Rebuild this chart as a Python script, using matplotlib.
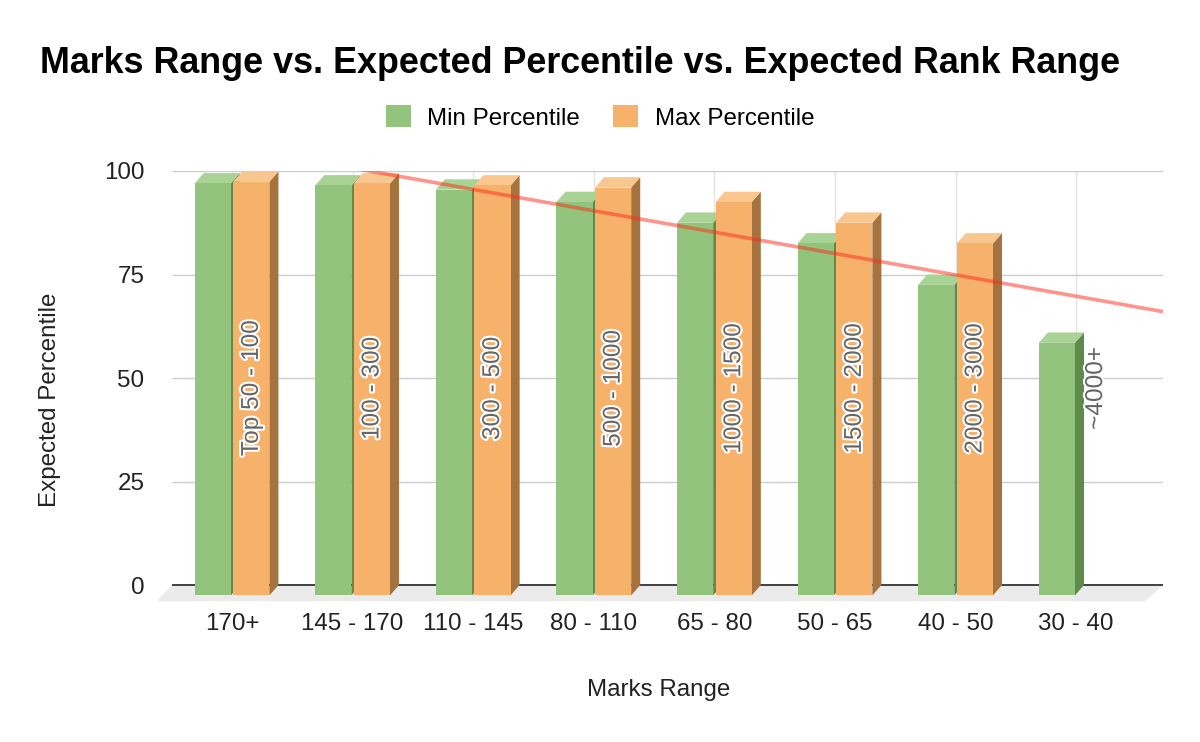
import numpy as np
import matplotlib.pyplot as plt
from matplotlib.patches import Polygon, Patch
import matplotlib.patheffects as pe

plt.rcParams['font.family'] = ['Liberation Sans', 'DejaVu Sans']

# data
categories = ['170+', '145 - 170', '110 - 145', '80 - 110', '65 - 80', '50 - 65', '40 - 50', '30 - 40']
min_pct = [99.5, 99, 98, 95, 90, 85, 75, 61]
max_pct = [99.9, 99.5, 99, 98.5, 95, 90, 85, np.nan]
rank_range = ['Top 50 - 100', '100 - 300', '300 - 500', '500 - 1000',
              '1000 - 1500', '1500 - 2000', '2000 - 3000', '~4000+']

GREEN = dict(front='#93c47d', top='#a9d295', side='#5e8a4c')
ORANGE = dict(front='#f6b26b', top='#f9c68f', side='#a6733f')

W = 1200
H = 742
fig = plt.figure(figsize=(W / 100, H / 100), dpi=100)
ax = fig.add_axes([157 / W, 1 - 601.6 / H, 1006 / W, 430.6 / H])
ax.set_xlim(-0.622, 7.72)
ax.set_ylim(-4, 100)
for s in ax.spines.values():
    s.set_visible(False)

x = np.arange(len(categories))
bw = 0.30      # bar front width
dx = 0.075     # depth offset (x)
dz = 2.5       # depth offset (y)


def bar3d(x0, v, col):
    x1 = x0 + bw
    front = Polygon([(x0, -dz), (x1, -dz), (x1, v - dz), (x0, v - dz)],
                    closed=True, fc=col['front'], ec='none', zorder=3)
    top = Polygon([(x0, v - dz), (x1, v - dz), (x1 + dx, v), (x0 + dx, v)],
                  closed=True, fc=col['top'], ec='none', zorder=3)
    side = Polygon([(x1, -dz), (x1 + dx, 0), (x1 + dx, v), (x1, v - dz)],
                   closed=True, fc=col['side'], ec='none', zorder=3)
    for p in (side, top, front):
        p.set_clip_on(False)
        ax.add_patch(p)


# floor and back grid
ax.add_patch(Polygon([(-0.5, 0), (7.72, 0), (7.72 - 0.15, -3.9), (-0.622, -3.9)],
                     closed=True, fc='#ebebeb', ec='none', zorder=1))
ax.hlines([25, 50, 75, 100], -0.5, 7.72, color='#cccccc', lw=1, zorder=1.5)
ax.vlines(x, 0, 100, color='#e3e3e3', lw=1, zorder=1.4)
ax.hlines(0, -0.5, 7.72, color='#333333', lw=1.3, zorder=2)

for i in range(len(categories)):
    bar3d(x[i] - 0.01 - bw, min_pct[i], GREEN)
    if not np.isnan(max_pct[i]):
        bar3d(x[i] + 0.01, max_pct[i], ORANGE)
    ax.text(x[i] + 0.165, 47.5, rank_range[i], rotation=90, ha='center', va='center',
            fontsize=17.6, color='#666666', zorder=5,
            path_effects=[pe.withStroke(linewidth=3, foreground='white')])

# linear trendline of min percentile
k, b = np.polyfit(x, min_pct, 1)
xt = np.array([-0.5, 7.72])
ax.plot(xt, k * xt + b, color='#ff2a1a', alpha=0.5, lw=2.6, zorder=4, solid_capstyle='butt')

ax.set_xticks(x)
ax.set_xticklabels(categories, fontsize=17.4, color='#222222')
ax.set_yticks([0, 25, 50, 75, 100])
ax.set_yticklabels(['0', '25', '50', '75', '100'], fontsize=17.4, color='#222222')
ax.tick_params(axis='x', length=0, pad=8)
ax.tick_params(axis='y', length=0, pad=9)

fig.text(40 / W, 1 - 73 / H, 'Marks Range vs. Expected Percentile vs. Expected Rank Range',
         fontsize=25.8, fontweight='bold', ha='left', va='baseline', color='#000000')
fig.text(659 / W, 1 - 690 / H, 'Marks Range', fontsize=17.4, ha='center', va='center',
         color='#222222')
fig.text(50 / W, 1 - 400 / H, 'Expected Percentile', fontsize=17.4, rotation=90,
         ha='center', va='center', color='#222222')

handles = [Patch(fc=GREEN['front'], ec='none'), Patch(fc=ORANGE['front'], ec='none')]
fig.legend(handles, ['Min Percentile', 'Max Percentile'], loc='center',
           bbox_to_anchor=(0.5, 1 - 117.5 / H), ncol=2, frameon=False, fontsize=17.4,
           handlelength=1.03, handleheight=1.03, handletextpad=0.7, columnspacing=1.36)

fig.savefig('out.png', dpi=100)
